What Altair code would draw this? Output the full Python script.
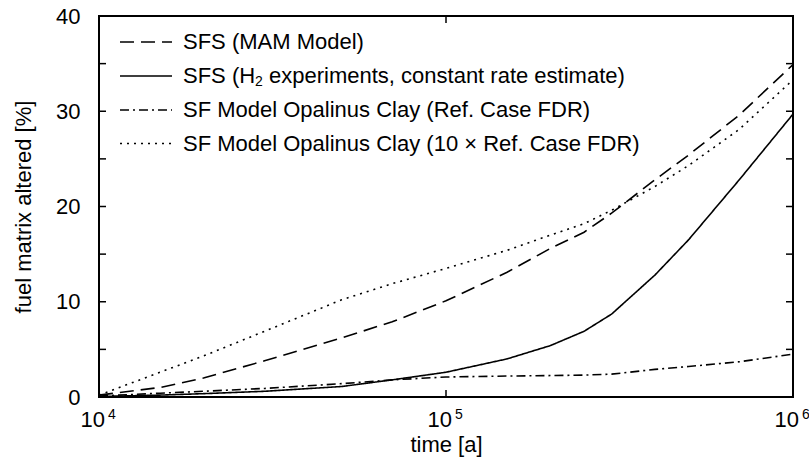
import altair as alt
import pandas as pd

# ---- data ----
time_a = [1e4, 1.5e4, 2e4, 3e4, 5e4, 7e4, 1e5, 1.5e5, 2e5, 2.5e5, 3e5, 4e5, 5e5, 7e5, 1e6]
sfs_mam = [0.2, 1.0, 2.0, 3.8, 6.2, 7.9, 10.1, 13.1, 15.6, 17.3, 19.3, 22.8, 25.4, 29.6, 34.9]
sfs_h2 = [0.05, 0.2, 0.35, 0.6, 1.1, 1.8, 2.6, 4.0, 5.4, 6.9, 8.7, 12.8, 16.5, 22.8, 29.7]
sf_ref = [0.1, 0.4, 0.6, 0.9, 1.4, 1.8, 2.1, 2.2, 2.25, 2.3, 2.4, 2.9, 3.2, 3.7, 4.5]
sf_10x = [0.2, 2.6, 4.3, 6.9, 10.2, 11.9, 13.5, 15.4, 17.0, 18.2, 19.6, 22.1, 24.3, 28.1, 33.3]

series_names = [
    "SFS (MAM Model)",
    "SFS (H2 experiments, constant rate estimate)",
    "SF Model Opalinus Clay (Ref. Case FDR)",
    "SF Model Opalinus Clay (10 × Ref. Case FDR)",
]
series_values = [sfs_mam, sfs_h2, sf_ref, sf_10x]
dashes = [[14, 7], [1, 0], [9, 4, 2, 4], [2, 5]]

y_ticks = [0, 5, 10, 15, 20, 25, 30, 35, 40]
y_labels = [0, 10, 20, 30, 40]
x_ticks = [1e4, 1e5, 1e6]
x_exp = ["4", "5", "6"]
x_inner_ticks = [1e5]

FONT = "Liberation Sans"
FS = 22
W, H = 694, 381

rows = []
for name, vals in zip(series_names, series_values):
    for t, v in zip(time_a, vals):
        rows.append({"series": name, "t": t, "v": v})
df = pd.DataFrame(rows)

xs = alt.Scale(type="log", domain=[1e4, 1e6], nice=False)
ys = alt.Scale(domain=[0, 40], nice=False, zero=False)

x_axis = alt.Axis(labels=False, ticks=False, domain=False, grid=False,
                  title="time [a]", titleFont=FONT, titleFontSize=FS,
                  titleFontWeight="normal", titleColor="black", titlePadding=37)
y_axis = alt.Axis(values=y_labels, ticks=False, domain=False, grid=False,
                  labelFont=FONT, labelFontSize=FS, labelColor="black",
                  labelPadding=19,
                  title="fuel matrix altered [%]", titleFont=FONT,
                  titleFontSize=FS, titleFontWeight="normal",
                  titleColor="black", titleX=-64, titleY=H / 2)


def X(field="t"):
    return alt.X(f"{field}:Q", scale=xs, axis=x_axis, title="time [a]")


def Y(field="v"):
    return alt.Y(f"{field}:Q", scale=ys, axis=y_axis, title="fuel matrix altered [%]")


lines = alt.Chart(df).mark_line(color="black", strokeWidth=1.6).encode(
    x=X(), y=Y(),
    strokeDash=alt.StrokeDash("series:N", scale=alt.Scale(domain=series_names, range=dashes),
                              legend=None),
    detail="series:N",
)

ytdf = pd.DataFrame({"v": y_ticks})
yt_left = alt.Chart(ytdf).mark_rule(color="black", strokeWidth=1.5).encode(
    y=Y(), x=alt.value(0), x2=alt.value(7))
yt_right = alt.Chart(ytdf).mark_rule(color="black", strokeWidth=1.5).encode(
    y=Y(), x=alt.value(W - 7), x2=alt.value(W))

xtdf = pd.DataFrame({"t": x_inner_ticks})
xt_bot = alt.Chart(xtdf).mark_rule(color="black", strokeWidth=1.5).encode(
    x=X(), y=alt.value(H - 7), y2=alt.value(H))
xt_top = alt.Chart(xtdf).mark_rule(color="black", strokeWidth=1.5).encode(
    x=X(), y=alt.value(0), y2=alt.value(7))

xldf = pd.DataFrame({"t": x_ticks, "base": ["10"] * 3, "exp": x_exp})
xl_base = alt.Chart(xldf).mark_text(font=FONT, fontSize=FS, align="right",
                                    baseline="alphabetic", dx=6, color="black").encode(
    x=X(), y=alt.value(H + 30), text="base:N")
xl_exp = alt.Chart(xldf).mark_text(font=FONT, fontSize=14, align="left",
                                   baseline="alphabetic", dx=9, color="black").encode(
    x=X(), y=alt.value(H + 22), text="exp:N")

# ---- legend (drawn manually) ----
leg_rows = [26, 60, 94, 127.5]
TX = 84
legend_layers = []
for i, (name, dash) in enumerate(zip(series_names, dashes)):
    one = pd.DataFrame({"k": [0]})
    legend_layers.append(
        alt.Chart(one).mark_rule(color="black", strokeWidth=1.6, strokeDash=dash).encode(
            x=alt.value(21), x2=alt.value(73), y=alt.value(leg_rows[i]))
    )
    if "H2" in name:
        pre, post = name.split("H2")
        pre = pre + "H"
        post = post.strip()
        w_pre = FS * (0.667 + 0.611 + 0.667 + 0.278 + 0.333 + 0.722)
        legend_layers.append(alt.Chart(one).mark_text(
            font=FONT, fontSize=FS, align="left", baseline="middle", color="black").encode(
            x=alt.value(TX), y=alt.value(leg_rows[i]), text=alt.value(pre)))
        legend_layers.append(alt.Chart(one).mark_text(
            font=FONT, fontSize=14, align="left", baseline="middle", color="black").encode(
            x=alt.value(TX + w_pre), y=alt.value(leg_rows[i] + 6), text=alt.value("2")))
        legend_layers.append(alt.Chart(one).mark_text(
            font=FONT, fontSize=FS, align="left", baseline="middle", color="black").encode(
            x=alt.value(TX + w_pre + 14 * 0.556 + FS * 0.278), y=alt.value(leg_rows[i]),
            text=alt.value(post)))
    else:
        legend_layers.append(alt.Chart(one).mark_text(
            font=FONT, fontSize=FS, align="left", baseline="middle", color="black").encode(
            x=alt.value(TX), y=alt.value(leg_rows[i]), text=alt.value(name)))

chart = alt.layer(
    lines, yt_left, yt_right, xt_bot, xt_top, xl_base, xl_exp, *legend_layers
).properties(
    width=W, height=H,
    autosize=alt.AutoSizeParams(type="none"),
    padding={"left": 99, "top": 16, "right": 16, "bottom": 67},
    background="white",
).configure_view(stroke="black", strokeWidth=2)

chart.save("out.html", embed_options={"renderer": "svg", "actions": False})
